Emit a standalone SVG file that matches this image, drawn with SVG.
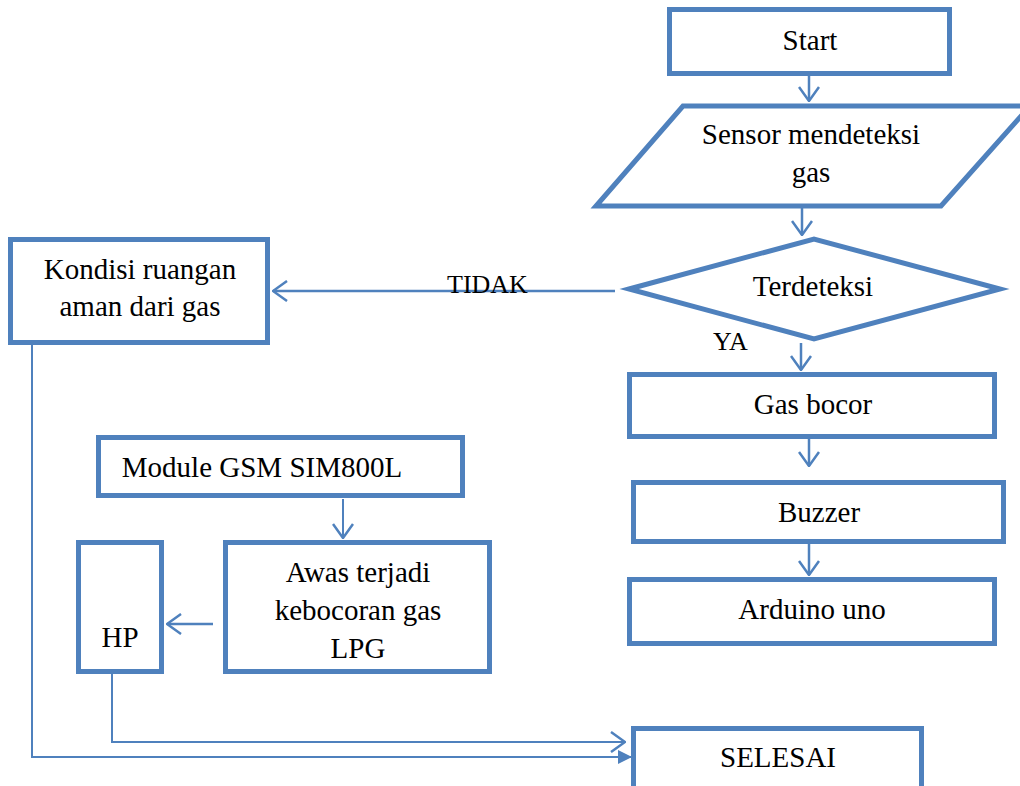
<svg xmlns="http://www.w3.org/2000/svg" width="1020" height="786" viewBox="0 0 1020 786">
<style>
.box{fill:#fff;stroke:#4F81BD;stroke-width:5}
.ln{fill:none;stroke:#4F81BD;stroke-width:2.5}
.thin{fill:none;stroke:#4F81BD;stroke-width:2}
.t{font-family:"Liberation Serif","Times New Roman",serif;font-size:29px;fill:#000;text-anchor:middle}
.lbl{font-family:"Liberation Serif","Times New Roman",serif;font-size:26px;fill:#000}
</style>
<defs>
<marker id="open" markerUnits="userSpaceOnUse" viewBox="0 0 16 22" markerWidth="16" markerHeight="22" refX="15" refY="11" orient="auto">
<path d="M1,1 L15,11 L1,21" fill="none" stroke="#4F81BD" stroke-width="2.5"/>
</marker>
<marker id="fill" markerUnits="userSpaceOnUse" viewBox="0 0 14 14" markerWidth="14" markerHeight="14" refX="13" refY="7" orient="auto">
<path d="M0,0 L14,7 L0,14 Z" fill="#4F81BD"/>
</marker>
</defs>
<rect width="1020" height="786" fill="#fff"/>
<g id="connectors">
<line class="ln" x1="809" y1="76" x2="809" y2="101" marker-end="url(#open)"/>
<line class="ln" x1="802" y1="208" x2="802" y2="235" marker-end="url(#open)"/>
<line class="ln" x1="615" y1="291" x2="273" y2="291" marker-end="url(#open)"/>
<line class="ln" x1="801" y1="343" x2="801" y2="370" marker-end="url(#open)"/>
<line class="ln" x1="809" y1="439" x2="809" y2="466" marker-end="url(#open)"/>
<line class="ln" x1="809" y1="544" x2="809" y2="575" marker-end="url(#open)"/>
<line class="thin" x1="343" y1="499" x2="343" y2="538" marker-end="url(#open)"/>
<line class="ln" x1="213" y1="624" x2="167" y2="624" marker-end="url(#open)"/>
<polyline class="thin" points="112,674 112,742 625,742" marker-end="url(#open)"/>
<polyline class="thin" points="32,345 32,757 631,757" marker-end="url(#fill)"/>
</g>
<g id="start">
<rect class="box" x="669.5" y="9.5" width="280" height="64"/>
<text class="t" x="810" y="50">Start</text>
</g>
<g id="sensor">
<polygon class="box" points="683,106 1030,106 941,206 596,206"/>
<text class="t" x="811" y="144">Sensor mendeteksi</text>
<text class="t" x="811" y="182">gas</text>
</g>
<g id="terdeteksi">
<polygon class="box" points="629,289 814,239 1000,289 814,339"/>
<text class="t" x="813" y="296">Terdeteksi</text>
</g>
<g id="label-tidak"><text class="lbl" x="447" y="293">TIDAK</text></g>
<g id="label-ya"><text class="lbl" x="713" y="350">YA</text></g>
<g id="kondisi">
<rect class="box" x="10.5" y="239.5" width="257" height="103"/>
<text class="t" x="140" y="279">Kondisi ruangan</text>
<text class="t" x="140" y="316">aman dari gas</text>
</g>
<g id="gas-bocor">
<rect class="box" x="629.5" y="374.5" width="365" height="62"/>
<text class="t" x="813" y="414">Gas bocor</text>
</g>
<g id="buzzer">
<rect class="box" x="633.5" y="482.5" width="370" height="59"/>
<text class="t" x="819" y="522">Buzzer</text>
</g>
<g id="arduino">
<rect class="box" x="629.5" y="579.5" width="365" height="64"/>
<text class="t" x="812" y="619">Arduino uno</text>
</g>
<g id="module">
<rect class="box" x="98.5" y="437.5" width="364" height="58"/>
<text class="t" x="262" y="477">Module GSM SIM800L</text>
</g>
<g id="awas">
<rect class="box" x="225.5" y="542.5" width="264" height="129"/>
<text class="t" x="358" y="582">Awas terjadi</text>
<text class="t" x="358" y="620">kebocoran gas</text>
<text class="t" x="358" y="658">LPG</text>
</g>
<g id="hp">
<rect class="box" x="78.5" y="542.5" width="83" height="129"/>
<text class="t" x="120" y="647">HP</text>
</g>
<g id="selesai">
<rect class="box" x="633.5" y="728.5" width="288" height="70"/>
<text class="t" x="778" y="767">SELESAI</text>
</g>
</svg>
